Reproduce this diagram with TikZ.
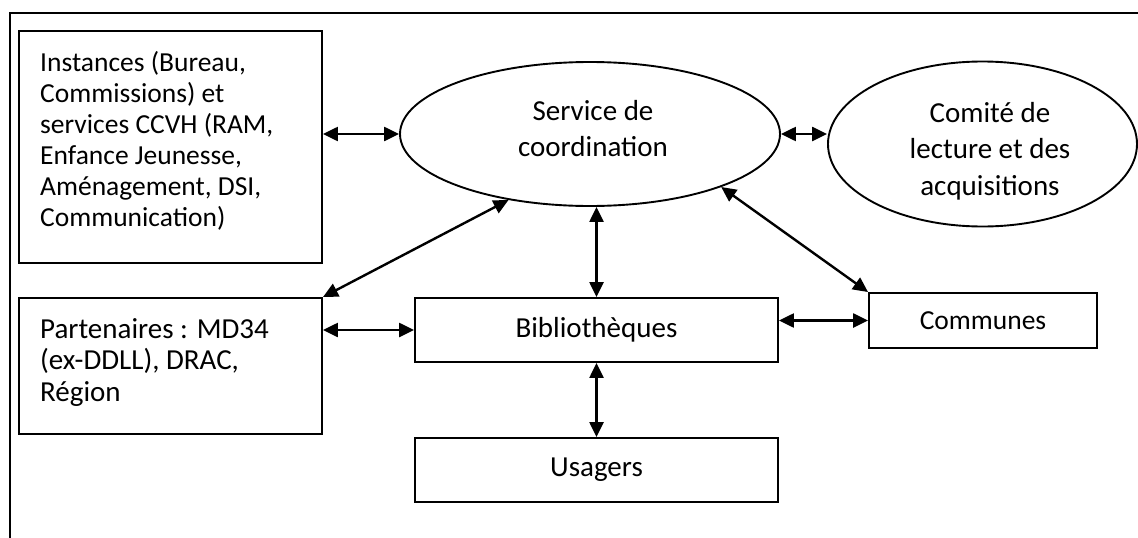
\documentclass[tikz,border=0pt]{standalone}
\usepackage{fontspec}
\setmainfont{Carlito}
\usetikzlibrary{arrows.meta,shapes.geometric}
\begin{document}
\begin{tikzpicture}[x=1pt,y=-1pt,
  box/.style={draw=black,line width=1.9pt,rectangle,inner sep=0pt,align=center},
  oval/.style={draw=black,line width=1.9pt,ellipse,inner sep=0pt,align=center},
  txtA/.style={font=\fontsize{27.5}{31}\selectfont},
  txtB/.style={font=\fontsize{29}{31.3}\selectfont},
  txtC/.style={font=\fontsize{29}{36.5}\selectfont,align=center,inner sep=0pt},
  arr/.style={line width=2.4pt,{Triangle[length=15pt,width=14pt]}-{Triangle[length=15pt,width=14pt]}}]
\useasboundingbox (0,0) rectangle (1138,538);
\fill[white] (0,0) rectangle (1138,538);
% frame
\coordinate (fb) at (10,538);
\coordinate (ftl) at (10,13);
\coordinate (ftr) at (1138,13);
\draw[line width=1.9pt] (fb) -- (ftl) -- (ftr);
% nodes
\node[box,minimum width=303,minimum height=232] (inst) at (170.5,147) {};
\node[txtA,anchor=base west,align=left,inner sep=0pt] (instT) at (40,226)
  {Instances (Bureau,\\Commissions) et\\services CCVH (RAM,\\Enfance Jeunesse,\\Aménagement, DSI,\\Communication)};
\node[box,minimum width=303,minimum height=136] (part) at (170.5,366) {};
\node[txtB,anchor=base west,align=left,inner sep=0pt] (partT) at (40,401)
  {Partenaires : MD34\\(ex-DDLL), DRAC,\\Région};
\node[oval,minimum width=380,minimum height=144] (serv) at (590,134) {};
\node[txtC] (servT) at (593,128.5) {Service de\\coordination};
\node[oval,minimum width=309,minimum height=165] (com) at (982.5,144) {};
\node[txtC] (comT) at (990,151) {Comité de\\lecture et des\\acquisitions};
\node[box,txtB,minimum width=363,minimum height=64] (bib) at (596.5,330) {Bibliothèques};
\node[box,txtB,minimum width=363,minimum height=64] (usa) at (596.5,470) {Usagers};
\node[box,txtA,minimum width=228,minimum height=55] (comm) at (983,320.5) {Communes};
% connectors
\draw[arr] (inst.east |- serv.west) -- (serv.west);
\draw[arr] (serv.east) -- (com.west |- serv.east);
\draw[arr] (part.north east) -- (serv.219.5);
\draw[arr] (bib.north |- serv.south) -- (bib.north);
\draw[arr] (serv.-22.5) -- (comm.north west);
\draw[arr] (part.east |- bib.west) -- (bib.west);
\draw[arr] (bib.east |- comm.west) -- (comm.west);
\draw[arr] (bib.south) -- (usa.north);
\end{tikzpicture}
\end{document}
